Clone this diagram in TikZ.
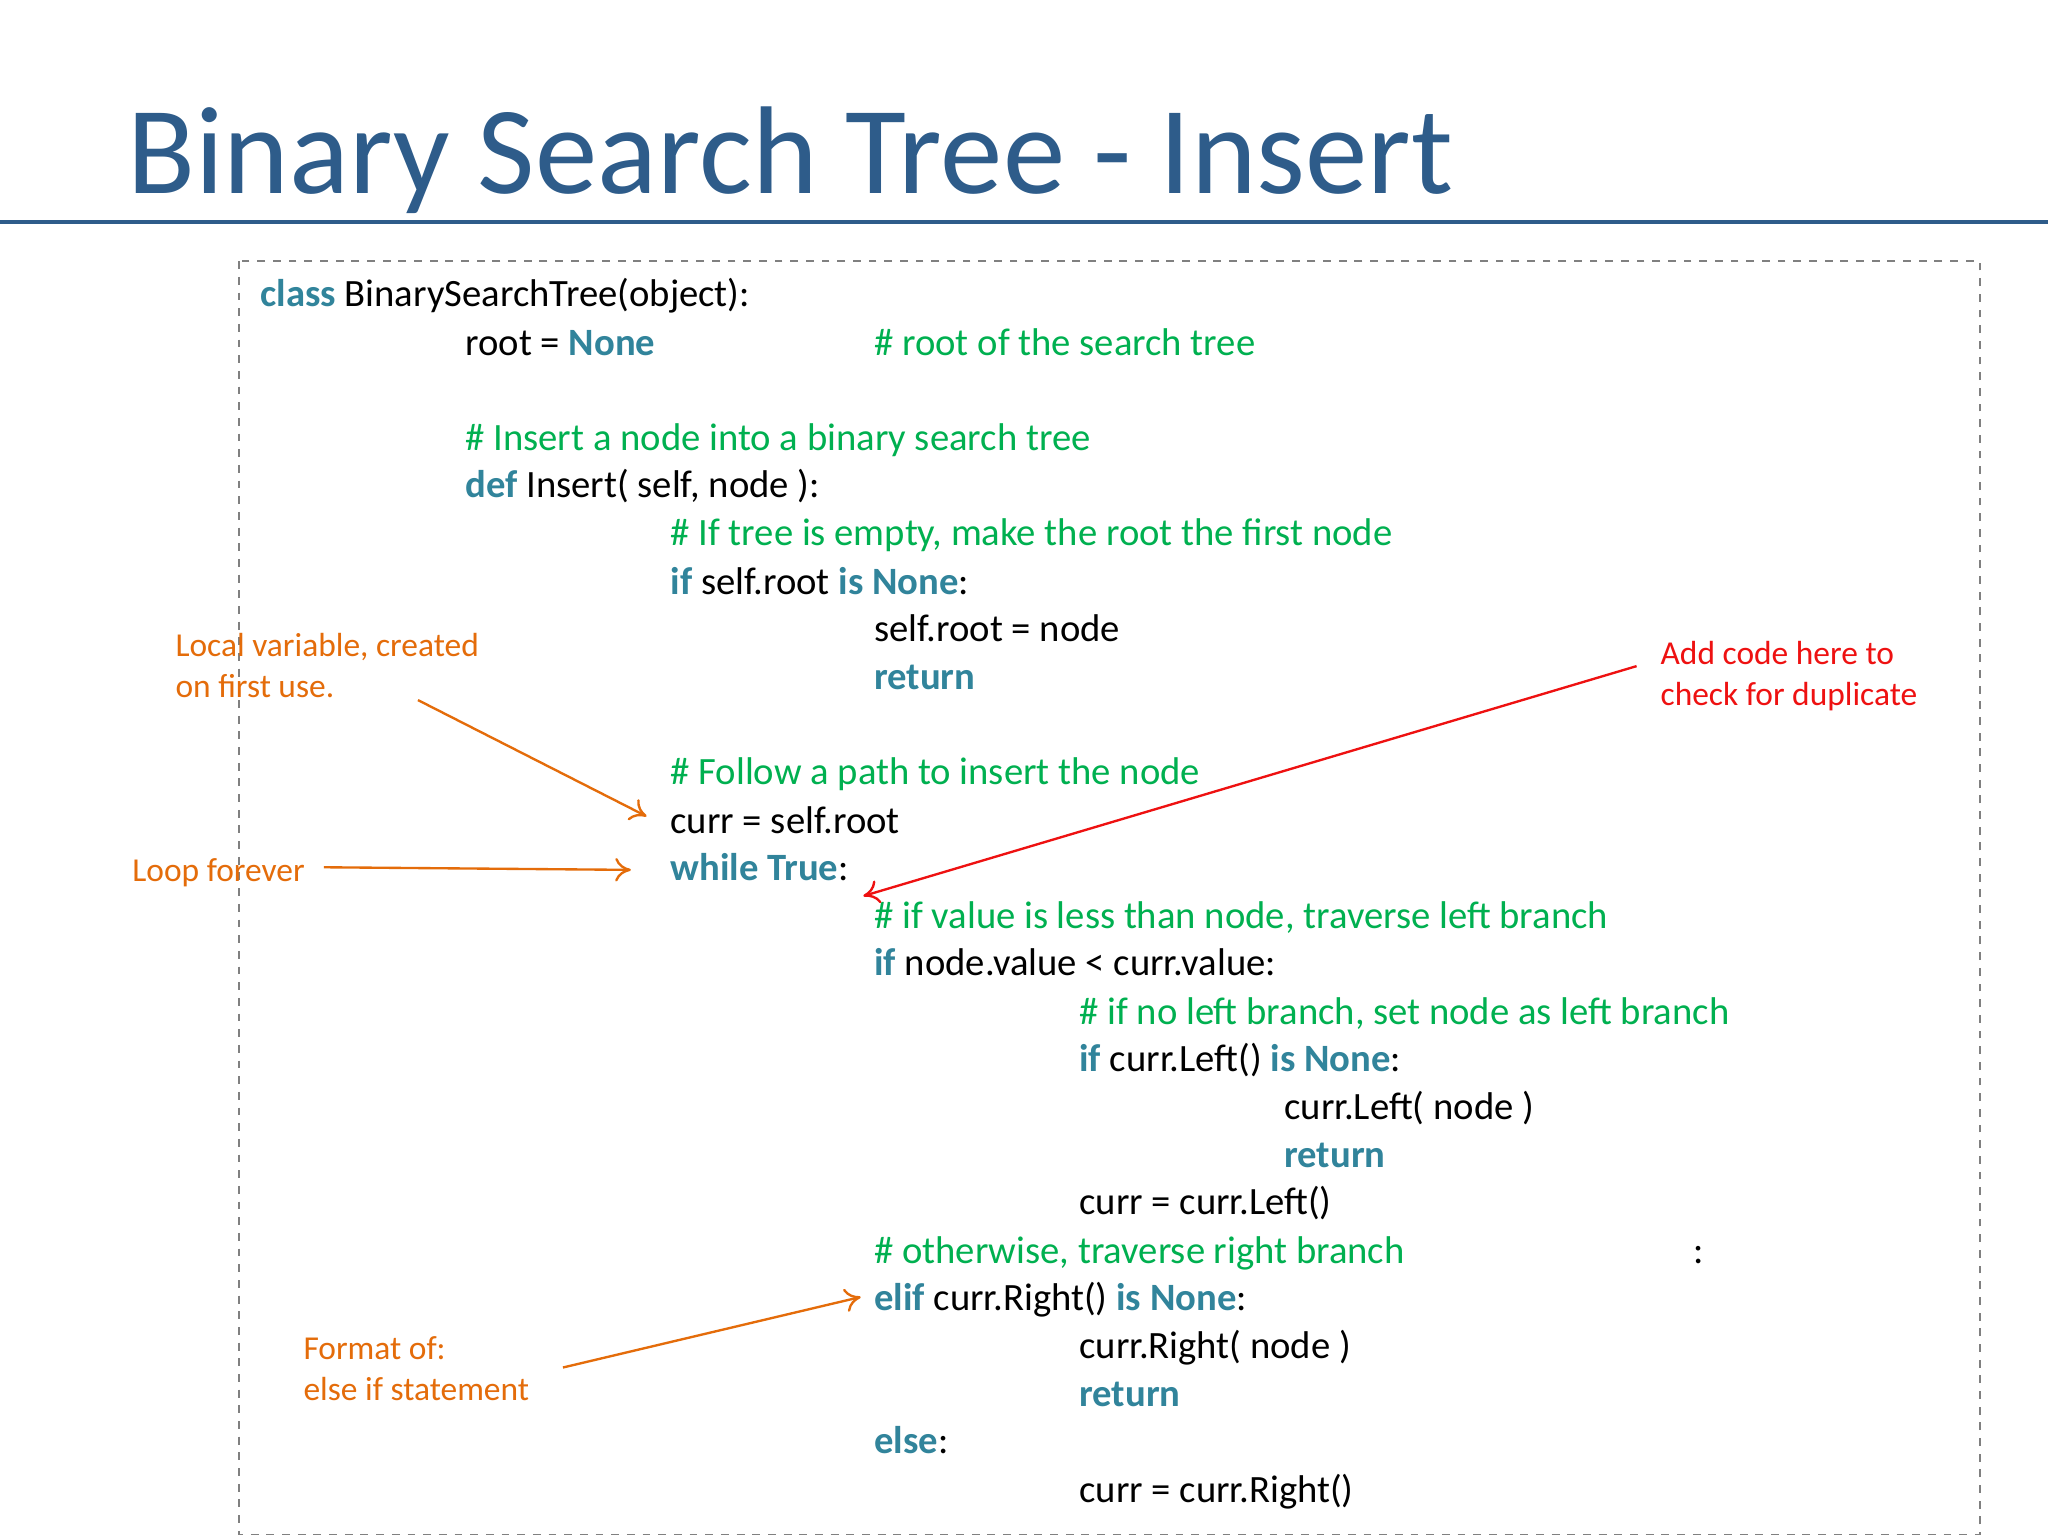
\documentclass[tikz,border=0pt]{standalone}
\usepackage{fontspec}
\setmainfont{Carlito}
\usetikzlibrary{arrows.meta}
\definecolor{kw}{HTML}{31849B}
\definecolor{cm}{HTML}{00B050}
\definecolor{org}{HTML}{E46C0A}
\definecolor{rd}{HTML}{EE1111}
\definecolor{ttl}{HTML}{2E5C8A}
\tikzset{
 code/.style={anchor=base west,inner sep=0pt,font=\fontsize{14.8}{16}\selectfont},
 note/.style={anchor=base west,inner sep=0pt,align=left,font=\fontsize{12.8}{15.5}\selectfont},
 oarr/.style={draw=org,line width=0.9pt,-{To[length=6pt,width=9pt]}},
 rarr/.style={draw=rd,line width=0.9pt,-{To[length=6pt,width=9pt]}}
}
\newcommand{\K}[1]{\textcolor{kw}{\textbf{#1}}}
\newcommand{\C}[1]{\textcolor{cm}{#1}}
\begin{document}
\begin{tikzpicture}[x=0.5pt,y=-0.5pt]
\useasboundingbox (0,0) rectangle (1568,1176);
\fill[white] (0,0) rectangle (1568,1176);
\node[anchor=base west,inner sep=0pt,text=ttl,font=\fontsize{47.8}{52}\selectfont] (title) at (97,148) {Binary Search Tree - Insert};
\draw[ttl,line width=1.5pt] (0,170) -- (1568,170);
\draw[gray,dashed,line width=0.6pt] (183,200) rectangle (1516,1175);
\node[code] (l1) at (199,235) {\K{class} BinarySearchTree(object):};
\node[code] (l2) at (356,272) {root = \K{None}};
\node[code] (l2c) at (669,272) {\C{\# root of the search tree}};
\node[code] (l3) at (356,345) {\C{\# Insert a node into a binary search tree}};
\node[code] (l4) at (356,381) {\K{def} Insert( self, node ):};
\node[code] (l5) at (513,418) {\C{\# If tree is empty, make the root the first node}};
\node[code] (l6) at (513,455) {\K{if} self.root \K{is None}:};
\node[code] (l7) at (669,491) {self.root = node};
\node[code] (l8) at (669,528) {\K{return}};
\node[code] (l9) at (513,601) {\C{\# Follow a path to insert the node}};
\node[code] (l10) at (513,638) {curr = self.root};
\node[code] (l11) at (513,674) {\K{while True}:};
\node[code] (l12) at (669,711) {\C{\# if value is less than node, traverse left branch}};
\node[code] (l13) at (669,747) {\K{if} node.value < curr.value:};
\node[code] (l14) at (826,784) {\C{\# if no left branch, set node as left branch}};
\node[code] (l15) at (826,820) {\K{if} curr.Left() \K{is None}:};
\node[code] (l16) at (983,857) {curr.Left( node )};
\node[code] (l17) at (983,894) {\K{return}};
\node[code] (l18) at (826,930) {curr = curr.Left()};
\node[code] (l19) at (669,967) {\C{\# otherwise, traverse right branch}};
\node[code] (l19b) at (1296,967) {:};
\node[code] (l20) at (669,1003) {\K{elif} curr.Right() \K{is None}:};
\node[code] (l21) at (826,1040) {curr.Right( node )};
\node[code] (l22) at (826,1077) {\K{return}};
\node[code] (l23) at (669,1113) {\K{else}:};
\node[code] (l24) at (826,1150) {curr = curr.Right()};
\node[note,text=org] (n1) at (134,534) {Local variable, created\\on first use.};
\node[note,text=org] (n2) at (101,675) {Loop forever};
\node[note,text=org] (n3) at (232,1072) {Format of:\\else if statement};
\node[note,text=rd] (n4) at (1271,540) {Add code here to\\check for duplicate};
\coordinate (a1s) at (320,536); \coordinate (a1e) at (495,625);
\coordinate (a2s) at (248,664); \coordinate (a2e) at (483,666);
\coordinate (a3s) at (431,1047); \coordinate (a3e) at (659,993);
\coordinate (a4s) at (1253,510); \coordinate (a4e) at (661,686);
\draw[oarr] (a1s) -- (a1e);
\draw[oarr] (a2s) -- (a2e);
\draw[oarr] (a3s) -- (a3e);
\draw[rarr] (a4s) -- (a4e);
\end{tikzpicture}
\end{document}
